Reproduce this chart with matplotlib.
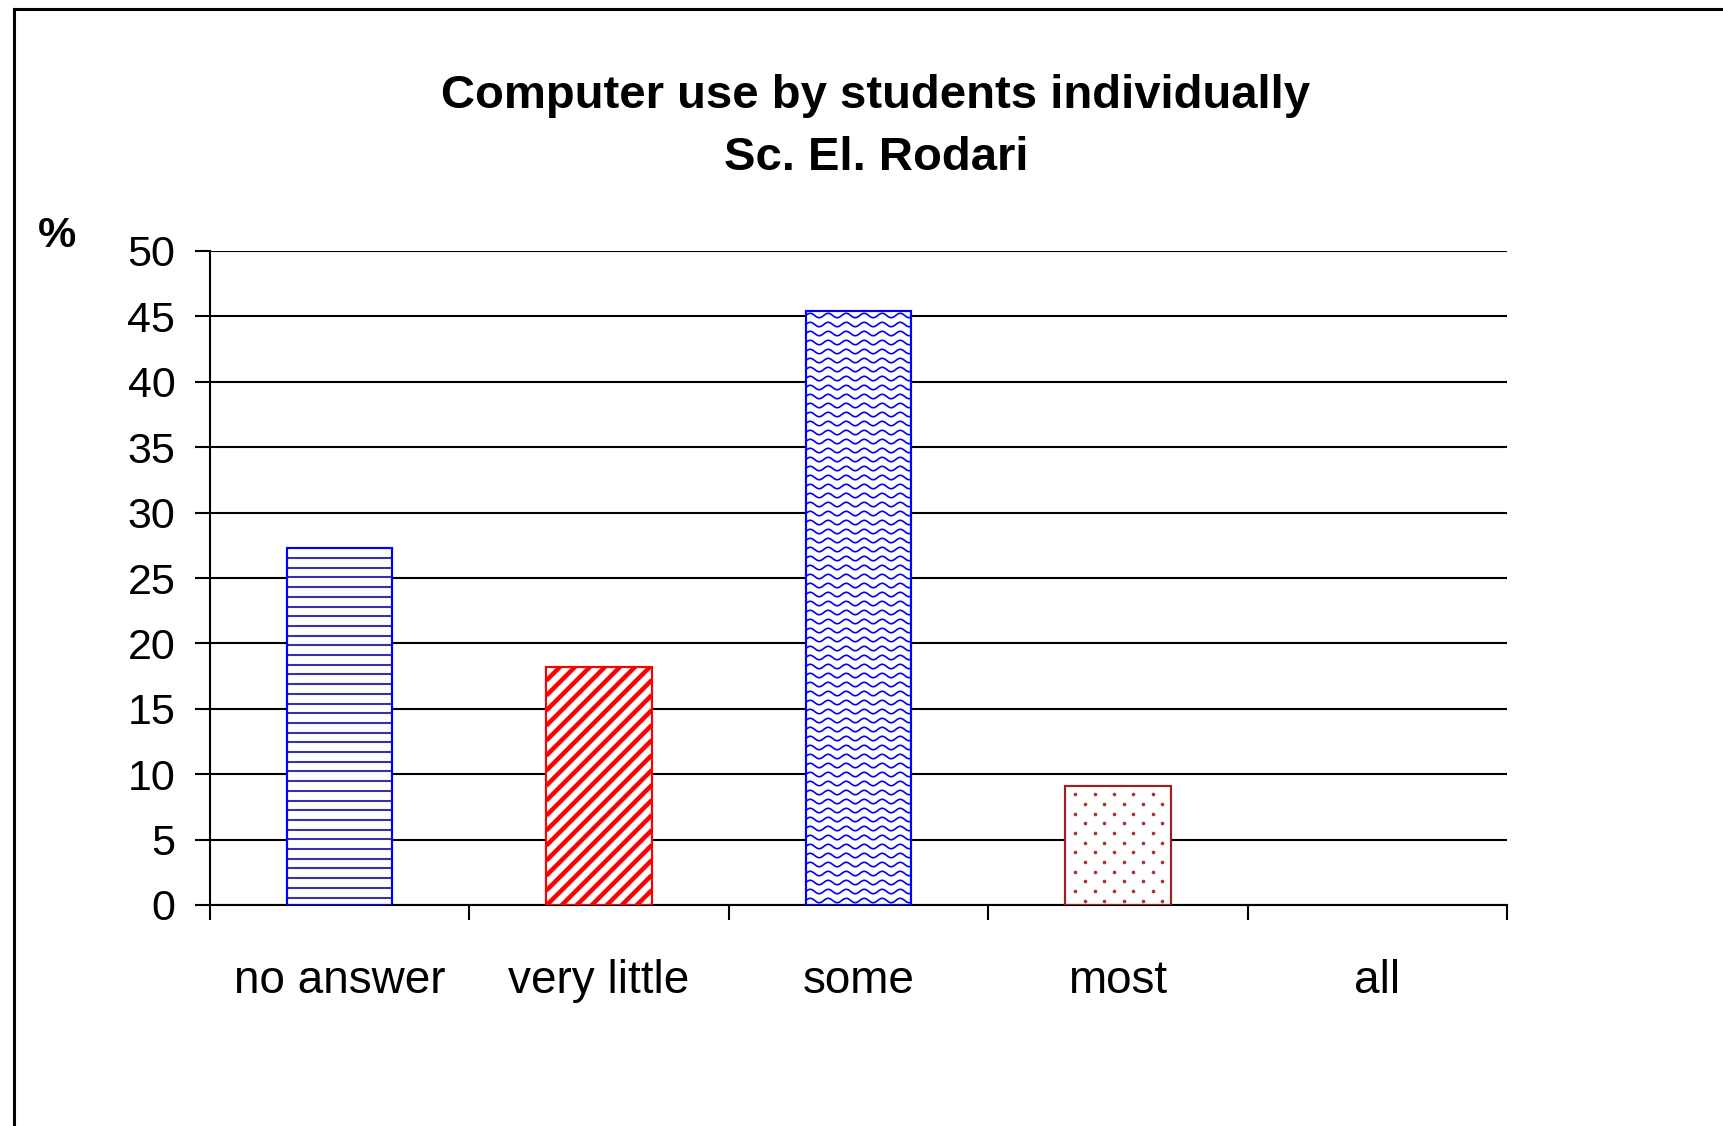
import numpy as np
import matplotlib.pyplot as plt
from matplotlib.collections import LineCollection
from matplotlib.lines import Line2D
from matplotlib.transforms import IdentityTransform

plt.rcParams['font.family'] = ['Liberation Sans', 'DejaVu Sans']

# survey answers, percent of students
categories = ["no answer", "very little", "some", "most", "all"]
percent = [27.27, 18.18, 45.45, 9.09, 0.0]
y_ticks = [0, 5, 10, 15, 20, 25, 30, 35, 40, 45, 50]

edge_colors = ["#0000ff", "#ff0000", "#0000ff", "#a02020", "none"]
patterns = ["hlines", "diag", "wave", "dots", None]

W, H, DPI = 1724, 1126, 100
fig = plt.figure(figsize=(W / DPI, H / DPI), dpi=DPI)
fig.patch.set_facecolor("white")

ax = fig.add_axes([210 / W, 1 - 905 / H, (1507 - 210) / W, (905 - 251) / H])
x = np.arange(len(categories))
ax.set_xlim(-0.5, len(categories) - 0.5)
ax.set_ylim(0, 50)

ax.set_axisbelow(True)
ax.yaxis.grid(True, color="black", linewidth=1.5)
ax.set_yticks(y_ticks)
ax.tick_params(axis="y", direction="out", length=11, width=1.5,
               labelsize=31, pad=14)

# category boundaries as major ticks, names on minor ticks
ax.set_xticks(np.arange(len(categories) + 1) - 0.5)
ax.set_xticklabels([])
ax.set_xticks(x, minor=True)
ax.set_xticklabels(categories, minor=True, fontsize=33)
ax.tick_params(axis="x", which="major", direction="out", length=11, width=1.5)
ax.tick_params(axis="x", which="minor", length=0, pad=39)

for side in ("top", "right"):
    ax.spines[side].set_visible(False)
for side in ("left", "bottom"):
    ax.spines[side].set_linewidth(1.5)

bars = ax.bar(x, percent, width=0.407, color="white",
              edgecolor=edge_colors, linewidth=1.5, zorder=2)


def fill_pattern(bar, kind):
    bb = bar.get_window_extent()
    x0, y0, x1, y1 = bb.x0, bb.y0, bb.x1, bb.y1
    if kind == "hlines":
        ys = np.arange(y1 - 9.7, y0, -9.7)
        segs = [[(x0, y), (x1, y)] for y in ys]
        art = LineCollection(segs, colors="#3434a8", linewidths=1.5)
    elif kind == "diag":
        cs = np.arange(y0 - (x1 - x0), y1 + 15, 15.0)
        segs = [[(x0, c), (x1, c + (x1 - x0))] for c in cs]
        art = LineCollection(segs, colors="#ff0000", linewidths=3.2)
    elif kind == "wave":
        xs = np.arange(x0 - 2, x1 + 2, 0.5)
        ys = np.arange(y1 - 5, y0 - 5, -9.0)
        segs = [np.column_stack([xs, y + 2.2 * np.sin(2 * np.pi * (xs - x0) / 18.0)])
                for y in ys]
        art = LineCollection(segs, colors="#0000ff", linewidths=1.2)
    elif kind == "dots":
        px, py = [], []
        for i, y in enumerate(np.arange(y1 - 8, y0, -9.7)):
            off = 0 if i % 2 == 0 else 9.7
            for xx in np.arange(x0 + 10 + off, x1, 19.4):
                px.append(xx)
                py.append(y)
        art = Line2D(px, py, linestyle="none", marker="o", markersize=1.6,
                     markerfacecolor="#b03030", markeredgecolor="#b03030")
    else:
        return
    art.set_transform(IdentityTransform())
    art.set_zorder(2.5)
    ax.add_artist(art)
    art.set_clip_path(bar)


for bar, kind in zip(bars, patterns):
    fill_pattern(bar, kind)

# outlines on top of the fill patterns
ax.bar(x, percent, width=0.407, fill=False, edgecolor=edge_colors,
       linewidth=1.5, zorder=3)

fig.text(876 / W, 1 - 108 / H, "Computer use by students individually",
         ha="center", va="baseline", fontsize=34, fontweight="bold")
fig.text(876 / W, 1 - 170 / H, "Sc. El. Rodari",
         ha="center", va="baseline", fontsize=34, fontweight="bold")
fig.text(57 / W, 1 - 236 / H, "%", ha="center", va="center", fontsize=31,
         fontweight="bold")

# frame along the left and top of the chart area
fig.add_artist(Line2D([14 / W, 14 / W], [0, 1 - 9 / H], color="black",
                      linewidth=2.2, transform=fig.transFigure))
fig.add_artist(Line2D([14 / W, 1], [1 - 9 / H, 1 - 9 / H], color="black",
                      linewidth=2.2, transform=fig.transFigure))

fig.savefig("out.png", dpi=DPI, facecolor="white")
